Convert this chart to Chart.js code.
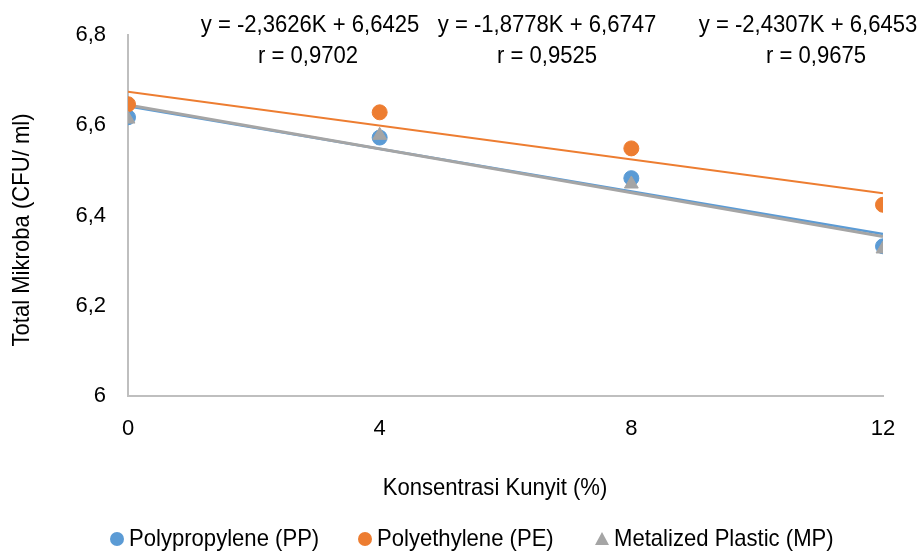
<!DOCTYPE html>
<html>
<head>
<meta charset="utf-8">
<script src="https://cdn.jsdelivr.net/npm/chart.js@4.4.0/dist/chart.umd.min.js"></script>
<style>
  html, body { margin: 0; padding: 0; background: #fff; }
  #wrap { width: 919px; height: 551px; }
</style>
</head>
<body>
<div id="wrap"><canvas id="chart" width="919" height="551"></canvas></div>
<script>
// Data
const concentrations = [0, 4, 8, 12];
const ppValues = [6.618, 6.573, 6.483, 6.332];
const peValues = [6.647, 6.629, 6.549, 6.424];
const mpValues = [6.614, 6.578, 6.470, 6.326];

// Trendline coefficients as printed (K = concentration as fraction)
const ppSlope = -2.3626, ppIntercept = 6.6425;
const peSlope = -1.8778, peIntercept = 6.6747;
const mpSlope = -2.4307, mpIntercept = 6.6453;

const equationLines = [
  ['y = -2,3626K + 6,6425', 'r = 0,9702'],
  ['y = -1,8778K + 6,6747', 'r = 0,9525'],
  ['y = -2,4307K + 6,6453', 'r = 0,9675']
];

const seriesNames = ['Polypropylene (PP)', 'Polyethylene (PE)', 'Metalized Plastic (MP)'];
const yTicks = [6, 6.2, 6.4, 6.6, 6.8];
const xTicks = [0, 4, 8, 12];

const FONT = "'Liberation Sans', Arial, sans-serif";
const BLUE = '#5B9BD5', ORANGE = '#ED7D31', GRAY = '#A5A5A5';

function points(values) {
  return concentrations.map((x, i) => ({ x: x, y: values[i] }));
}

function trend(slope, intercept) {
  const first = concentrations[0], last = concentrations[concentrations.length - 1];
  return [
    { x: first, y: intercept + slope * first / 100 },
    { x: last, y: intercept + slope * last / 100 }
  ];
}

// narrow-looking text: squeeze Liberation Sans horizontally
function narrowText(ctx, text, x, y, size, align, rotate) {
  ctx.save();
  ctx.translate(x, y);
  if (rotate) ctx.rotate(-Math.PI / 2);
  ctx.scale(0.92, 1);
  ctx.font = size + 'px ' + FONT;
  ctx.fillStyle = '#000';
  ctx.textAlign = align;
  ctx.textBaseline = 'middle';
  ctx.fillText(text, 0, 0);
  ctx.restore();
}

// equations, axis titles and legend
const textPlugin = {
  id: 'texts',
  afterDraw(chart) {
    const ctx = chart.ctx;
    const spots = [[310, 308], [547, 547], [808, 816]];
    equationLines.forEach((lines, i) => {
      narrowText(ctx, lines[0], spots[i][0], 25, 24, 'center');
      narrowText(ctx, lines[1], spots[i][1], 56, 24, 'center');
    });

    narrowText(ctx, 'Konsentrasi Kunyit (%)', 495, 488, 24, 'center');
    narrowText(ctx, 'Total Mikroba (CFU/ ml)', 22, 230, 24, 'center', true);

    // legend
    const colors = [BLUE, ORANGE, GRAY];
    const markerX = [117, 365, 602];
    const ly = 539;
    seriesNames.forEach((name, i) => {
      ctx.save();
      ctx.fillStyle = colors[i];
      ctx.beginPath();
      if (i === 2) {
        ctx.moveTo(markerX[i], ly - 7);
        ctx.lineTo(markerX[i] + 7, ly + 6);
        ctx.lineTo(markerX[i] - 7, ly + 6);
        ctx.closePath();
      } else {
        ctx.arc(markerX[i], ly, 7, 0, Math.PI * 2);
      }
      ctx.fill();
      ctx.restore();
      narrowText(ctx, name, markerX[i] + 12, ly, 24, 'left');
    });
  }
};

new Chart(document.getElementById('chart'), {
  type: 'scatter',
  data: {
    datasets: [
      { label: 'trendPP', type: 'line', data: trend(ppSlope, ppIntercept), borderColor: BLUE, borderWidth: 2.5, pointRadius: 0, fill: false, order: 6 },
      { label: 'trendMP', type: 'line', data: trend(mpSlope, mpIntercept), borderColor: GRAY, borderWidth: 3, pointRadius: 0, fill: false, order: 5 },
      { label: 'trendPE', type: 'line', data: trend(peSlope, peIntercept), borderColor: ORANGE, borderWidth: 2, pointRadius: 0, fill: false, order: 4 },
      { label: seriesNames[0], data: points(ppValues), backgroundColor: BLUE, borderColor: BLUE, pointStyle: 'circle', pointRadius: 7.5, order: 3 },
      { label: seriesNames[1], data: points(peValues), backgroundColor: ORANGE, borderColor: ORANGE, pointStyle: 'circle', pointRadius: 7.5, order: 2 },
      { label: seriesNames[2], data: points(mpValues), backgroundColor: GRAY, borderColor: GRAY, pointStyle: 'triangle', pointRadius: 8, order: 1 }
    ]
  },
  options: {
    responsive: false,
    animation: false,
    layout: { padding: { top: 35, right: 36, left: 0, bottom: 0 } },
    plugins: {
      tooltip: { enabled: false },
      legend: { display: false }
    },
    scales: {
      x: {
        type: 'linear',
        min: 0,
        max: 12,
        afterBuildTicks: axis => { axis.ticks = xTicks.map(v => ({ value: v })); },
        afterFit: axis => { axis.height = 155; },
        grid: { display: false, drawTicks: false },
        border: { color: '#BFBFBF', width: 2 },
        ticks: { color: '#000', padding: 20, font: { family: FONT, size: 22 } }
      },
      y: {
        min: 6,
        max: 6.8,
        afterBuildTicks: axis => { axis.ticks = yTicks.map(v => ({ value: v })); },
        afterFit: axis => { axis.width = 128; },
        grid: { display: false, drawTicks: false },
        border: { color: '#BFBFBF', width: 2 },
        ticks: {
          color: '#000',
          padding: 22,
          font: { family: FONT, size: 22 },
          callback: v => String(Math.round(v * 10) / 10).replace('.', ',')
        }
      }
    }
  },
  plugins: [textPlugin]
});
</script>
</body>
</html>
